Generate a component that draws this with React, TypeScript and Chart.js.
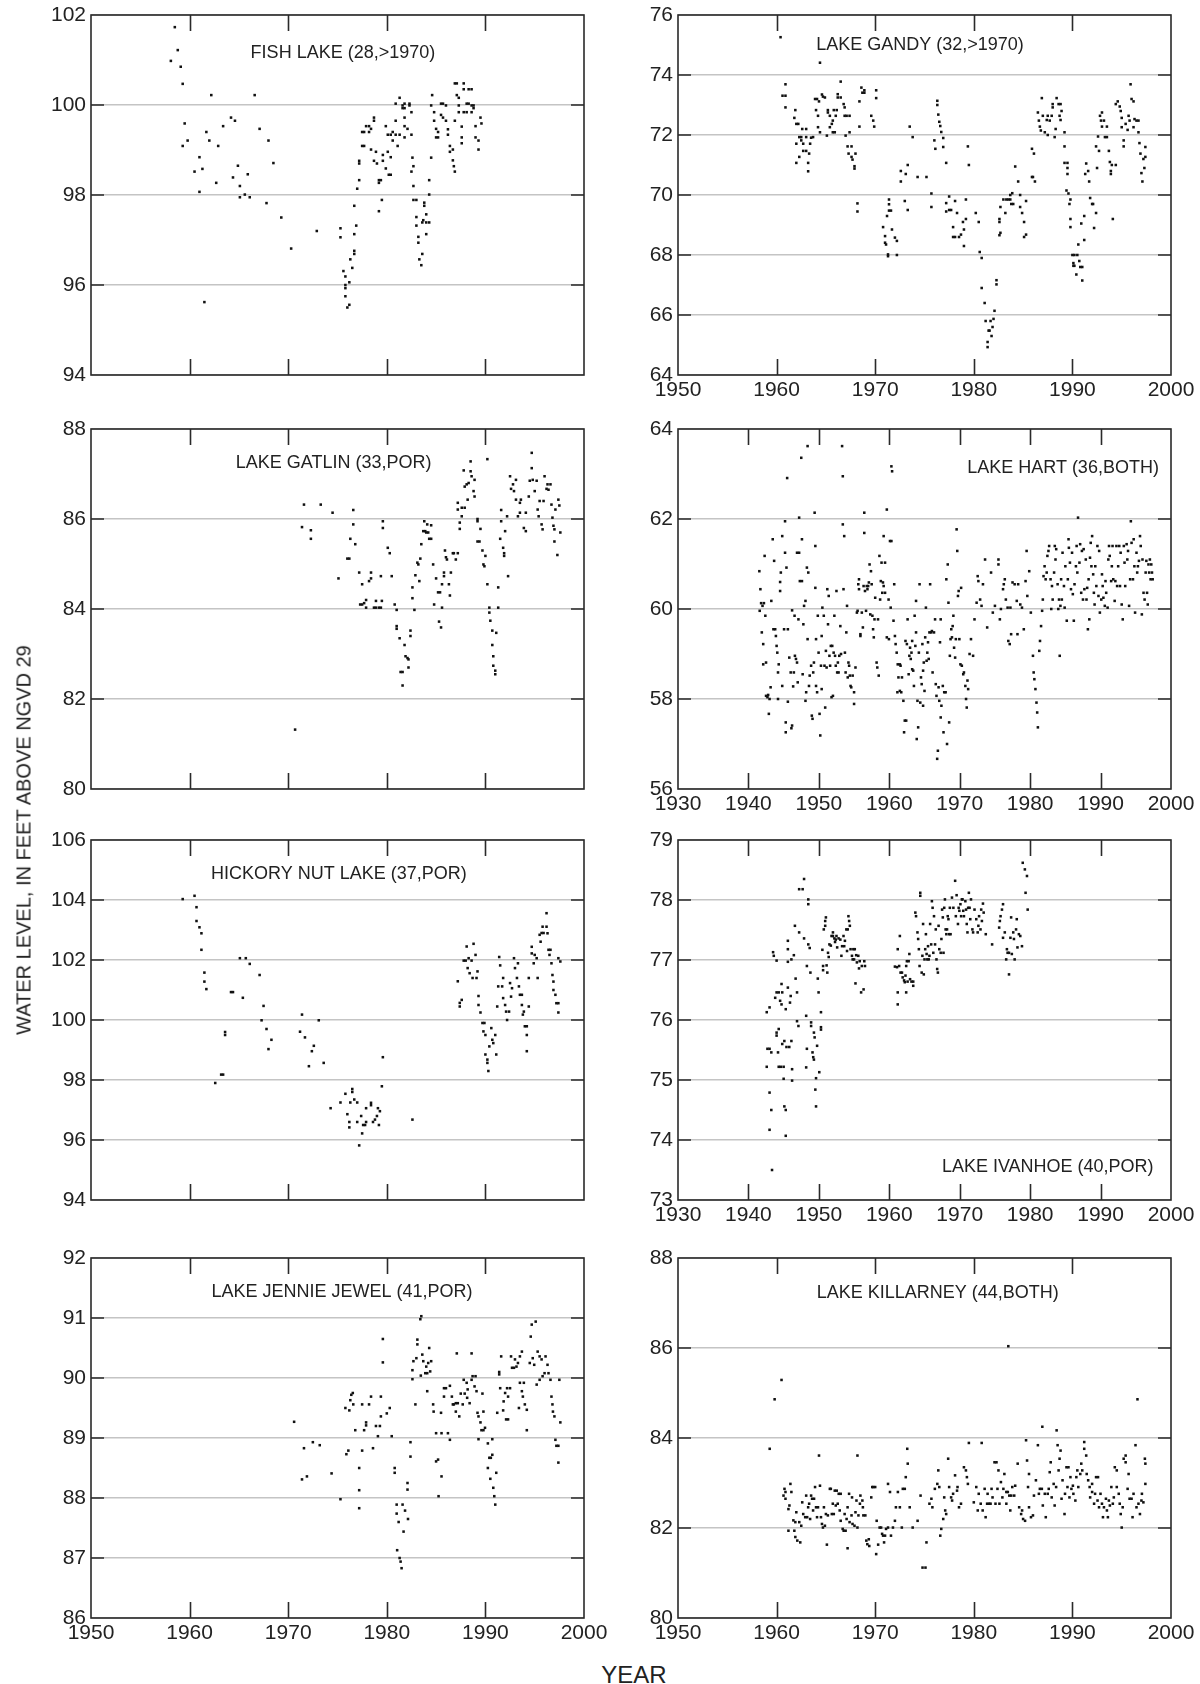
import React, { useEffect, useRef } from 'react';
import { Chart, registerables } from 'chart.js';

Chart.register(...registerables);

const FONT = "'Liberation Sans', Arial, Helvetica, sans-serif";

type P = [number, number];

// ---- DATA: [year, water level (ft above NGVD 29)] ----
const fishLake: P[] = [
  [1958.5,101.73],[1958.8,101.22],[1958.1,100.98],[1959.1,100.85],[1959.3,100.47],[1959.5,99.59],[1959.3,99.09],[1959.8,99.21],[1960.5,98.52],[1961.0,98.84],[1961.3,98.58],[1961.0,98.07],[1961.5,95.62],[1961.7,99.40],[1962.0,99.21],[1962.2,100.22],[1962.7,98.27],[1962.9,99.09],[1963.4,99.53],[1964.2,99.72],[1964.6,99.65],[1964.4,98.39],[1964.9,98.65],[1965.1,98.20],[1965.1,97.95],[1965.6,98.01],[1965.9,98.46],[1966.1,97.95],[1966.6,100.22],[1967.1,99.47],[1967.8,97.82],[1968.0,99.21],[1968.5,98.71],[1969.3,97.50],[1970.3,96.81],[1972.9,97.20],[1975.3,97.26],[1975.3,97.06],[1975.6,96.31],[1975.8,96.19],[1975.8,96.00],[1975.8,95.93],[1975.8,95.75],[1976.0,95.50],[1976.2,95.56],[1976.2,96.06],[1976.3,96.57],[1976.5,96.38],[1976.7,96.76],[1976.7,96.69],[1976.7,97.13],[1976.9,97.32],[1976.7,97.76],[1977.0,98.14],[1977.2,98.33],[1977.2,98.70],[1977.2,98.76],[1977.5,99.09],[1977.7,99.09],[1977.5,99.40],[1977.7,99.40],[1977.9,99.53],[1978.2,99.53],[1978.2,99.40],[1978.4,99.47],[1978.7,99.72],[1978.7,99.65],[1978.4,99.01],[1978.9,98.96],[1978.7,98.76],[1979.0,98.70],[1979.2,98.33],[1979.4,98.33],[1979.2,98.27],[1979.2,97.64],[1979.5,97.89],[1979.6,98.89],[1979.6,98.76],[1979.9,99.53],[1979.9,98.59],[1980.1,98.96],[1980.1,99.34],[1980.2,98.45],[1980.4,98.45],[1980.4,98.84],[1980.4,99.34],[1980.6,99.21],[1980.6,99.40],[1980.9,99.65],[1980.9,99.34],[1981.1,99.09],[1980.9,100.03],[1981.3,100.16],[1981.3,99.34],[1981.6,99.99],[1981.6,99.93],[1981.8,100.03],[1981.8,99.93],[1981.8,99.72],[1981.8,99.53],[1981.8,99.28],[1982.1,99.47],[1982.3,100.03],[1982.3,99.99],[1982.5,99.84],[1982.5,99.34],[1982.6,98.83],[1982.7,98.64],[1982.5,98.52],[1982.7,98.20],[1982.7,97.89],[1983.0,97.89],[1983.0,97.51],[1983.0,97.32],[1983.2,97.07],[1983.2,96.94],[1983.3,96.57],[1983.5,96.44],[1983.6,96.69],[1983.6,97.39],[1983.7,97.44],[1983.8,97.83],[1983.8,97.76],[1984.0,97.57],[1984.0,97.39],[1984.3,97.39],[1984.0,97.13],[1984.3,98.01],[1984.3,98.33],[1984.5,98.83],[1984.6,100.22],[1984.5,99.99],[1984.8,99.84],[1984.8,99.65],[1985.0,99.28],[1985.0,99.47],[1985.2,99.28],[1985.2,99.40],[1985.5,99.78],[1985.5,100.03],[1985.7,100.03],[1985.7,99.72],[1986.0,99.65],[1986.0,99.99],[1986.2,99.46],[1986.2,99.34],[1986.4,99.09],[1986.4,98.96],[1986.7,99.01],[1986.7,98.77],[1986.8,98.64],[1986.9,98.52],[1986.9,99.65],[1986.9,100.48],[1987.1,100.48],[1987.1,100.22],[1987.3,100.16],[1987.3,99.99],[1987.3,99.84],[1987.6,99.52],[1987.6,99.28],[1987.6,99.15],[1987.8,100.48],[1987.8,100.35],[1987.8,99.84],[1988.1,99.84],[1988.1,100.03],[1988.3,100.03],[1988.3,100.35],[1988.6,100.35],[1988.6,99.99],[1988.6,99.84],[1988.8,99.99],[1988.8,99.93],[1989.0,99.28],[1989.0,99.53],[1989.3,99.21],[1989.3,99.01],[1989.5,99.72],[1989.6,99.59]
];

const lakeGandy: P[] = [
  [1960.4,75.26],[1960.6,73.31],[1960.9,73.31],[1960.9,73.69],[1960.9,72.92],[1961.9,72.83],[1961.8,72.57],[1962.0,72.37],[1962.2,72.37],[1962.0,71.71],[1962.0,71.07],[1962.3,71.27],[1962.3,71.93],[1962.5,71.93],[1962.5,71.82],[1962.6,72.20],[1962.7,71.71],[1962.7,71.47],[1963.0,72.20],[1963.0,71.93],[1963.0,71.47],[1963.2,71.07],[1963.2,70.79],[1963.3,71.38],[1963.4,71.71],[1963.5,71.91],[1963.7,71.93],[1963.9,73.20],[1964.1,73.20],[1964.0,72.83],[1964.2,72.64],[1964.2,72.26],[1964.3,73.12],[1964.4,74.41],[1964.4,72.09],[1964.6,73.35],[1964.7,73.28],[1964.9,73.25],[1965.1,71.98],[1965.2,72.83],[1965.2,72.75],[1965.4,72.64],[1965.4,72.26],[1965.6,72.37],[1965.7,72.09],[1965.7,72.48],[1965.8,72.83],[1965.9,72.09],[1966.0,72.64],[1966.1,72.83],[1966.2,73.36],[1966.2,73.25],[1966.5,73.78],[1966.5,73.25],[1966.8,73.03],[1966.9,72.92],[1966.9,72.64],[1967.0,71.98],[1967.1,72.64],[1967.2,71.62],[1967.3,71.38],[1967.4,72.64],[1967.4,72.09],[1967.6,71.27],[1967.6,71.62],[1967.7,71.18],[1967.9,70.96],[1967.9,70.88],[1968.0,71.38],[1968.2,69.72],[1968.2,69.45],[1968.4,72.28],[1968.4,73.12],[1968.6,73.58],[1968.7,73.41],[1968.9,73.41],[1968.9,73.49],[1969.6,72.64],[1969.8,72.48],[1969.9,72.28],[1970.1,73.49],[1970.1,73.23],[1970.8,68.93],[1971.0,68.63],[1971.0,68.41],[1971.1,68.35],[1971.3,68.02],[1971.3,67.96],[1971.2,69.3],[1971.4,69.48],[1971.6,69.48],[1971.4,69.85],[1971.4,69.69],[1971.7,68.85],[1972.0,68.58],[1972.2,68.47],[1972.2,68.0],[1972.6,70.8],[1972.6,70.45],[1973.0,69.8],[1973.1,70.7],[1973.3,71.0],[1973.3,69.5],[1973.5,72.28],[1973.8,71.93],[1974.3,70.6],[1975.2,70.6],[1975.7,70.05],[1975.7,69.6],[1976.0,71.82],[1976.1,71.54],[1976.3,73.14],[1976.3,73.0],[1976.4,72.68],[1976.5,72.44],[1976.6,72.3],[1976.7,72.1],[1976.9,71.9],[1976.9,71.6],[1977.2,71.07],[1977.2,69.73],[1977.2,69.45],[1977.5,69.95],[1977.5,69.5],[1977.7,69.5],[1977.9,68.6],[1977.9,68.93],[1978.1,68.6],[1978.1,69.8],[1978.3,69.4],[1978.5,68.6],[1978.7,68.68],[1978.9,69.1],[1979.0,68.85],[1979.0,68.3],[1979.2,69.2],[1979.2,69.85],[1979.4,71.62],[1979.5,71.0],[1980.2,69.4],[1980.5,69.1],[1980.6,68.1],[1980.8,67.9],[1980.8,66.9],[1981.1,66.4],[1981.2,65.8],[1981.4,65.1],[1981.4,64.93],[1981.5,65.48],[1981.6,65.48],[1981.7,65.8],[1981.8,65.3],[1981.9,65.6],[1982.0,65.87],[1982.1,66.14],[1982.3,67.16],[1982.3,67.02],[1982.6,68.66],[1982.7,68.74],[1982.6,69.2],[1982.6,69.1],[1982.7,69.6],[1983.0,69.85],[1983.2,69.4],[1983.3,69.85],[1983.5,69.85],[1983.7,69.85],[1983.7,70.0],[1983.9,70.06],[1983.8,69.7],[1984.0,69.7],[1984.2,70.95],[1984.5,70.45],[1984.7,70.0],[1984.7,69.6],[1984.9,69.4],[1985.1,69.1],[1985.1,68.6],[1985.3,68.68],[1985.3,69.8],[1985.9,70.6],[1986.0,70.6],[1985.9,71.54],[1986.1,71.38],[1986.2,70.45],[1986.5,72.75],[1986.6,72.48],[1986.7,72.28],[1986.8,72.15],[1986.9,73.23],[1987.0,72.64],[1987.2,72.09],[1987.4,72.5],[1987.5,72.0],[1987.5,72.64],[1987.7,72.48],[1987.9,72.64],[1988.0,72.92],[1988.0,73.03],[1988.2,71.93],[1988.3,72.2],[1988.4,73.23],[1988.6,73.03],[1988.8,73.03],[1988.7,72.64],[1988.8,72.5],[1988.9,72.8],[1989.2,72.09],[1989.2,71.62],[1989.2,71.07],[1989.5,71.07],[1989.5,70.7],[1989.5,70.9],[1989.4,70.15],[1989.6,70.05],[1989.7,69.7],[1989.8,69.85],[1989.8,69.2],[1989.8,68.93],[1990.0,68.0],[1990.2,68.0],[1990.1,67.73],[1990.1,67.64],[1990.2,67.64],[1990.4,67.35],[1990.5,68.0],[1990.6,68.35],[1990.7,67.8],[1990.8,67.6],[1991.0,67.6],[1991.0,67.15],[1990.9,69.05],[1991.2,68.5],[1991.2,69.3],[1991.3,70.7],[1991.4,71.05],[1991.6,70.8],[1991.7,70.45],[1991.8,69.9],[1992.0,69.7],[1992.1,69.7],[1992.2,68.9],[1992.4,69.4],[1992.4,71.62],[1992.5,70.9],[1992.6,71.95],[1992.7,71.47],[1992.8,72.64],[1992.9,72.48],[1993.0,72.75],[1993.0,72.28],[1993.2,72.48],[1993.3,71.93],[1993.5,71.93],[1993.5,72.28],[1993.7,71.47],[1993.8,71.1],[1993.9,70.8],[1994.0,71.0],[1993.9,70.7],[1994.1,69.2],[1994.4,71.0],[1994.4,73.03],[1994.6,73.12],[1994.8,72.95],[1994.9,72.8],[1995.0,72.57],[1995.0,72.26],[1995.2,71.62],[1995.2,71.82],[1995.4,72.37],[1995.6,72.17],[1995.7,72.64],[1995.8,72.48],[1995.9,73.69],[1996.0,73.2],[1996.2,73.12],[1996.2,72.26],[1996.3,72.53],[1996.5,72.48],[1996.7,72.48],[1996.7,72.09],[1996.8,71.73],[1996.9,71.38],[1997.0,70.73],[1997.1,70.45],[1997.2,71.2],[1997.3,70.9],[1997.4,71.6],[1997.4,71.27]
];

const lakeGatlin: P[] = [
  [1970.7,81.32],[1971.4,85.82],[1971.6,86.32],[1972.3,85.75],[1972.3,85.56],[1973.3,86.32],[1974.5,86.14],[1975.1,84.68],[1976.0,85.12],[1976.2,85.12],[1976.3,85.56],[1976.6,86.2],[1976.6,85.88],[1976.8,85.44],[1977.2,84.81],[1977.3,84.1],[1977.5,84.1],[1977.5,84.55],[1977.7,84.13],[1977.9,84.2],[1977.9,84.03],[1978.2,84.62],[1978.4,84.68],[1978.4,84.81],[1978.7,84.03],[1978.9,84.03],[1978.9,84.18],[1979.2,84.03],[1979.4,84.03],[1979.4,84.73],[1979.5,84.18],[1979.6,85.95],[1979.6,85.8],[1980.1,85.36],[1980.3,85.24],[1980.5,84.73],[1980.8,84.1],[1981.0,83.98],[1981.0,83.62],[1981.0,83.56],[1981.3,83.35],[1981.4,82.6],[1981.6,82.6],[1981.6,82.3],[1981.8,83.2],[1981.9,82.95],[1982.1,82.91],[1982.2,82.88],[1982.2,82.7],[1982.4,83.52],[1982.4,83.4],[1982.6,84.48],[1982.6,84.24],[1982.8,83.98],[1982.9,84.75],[1983.1,85.03],[1983.2,84.99],[1983.3,84.62],[1983.4,85.12],[1983.5,85.44],[1983.7,85.73],[1983.9,85.73],[1983.8,85.95],[1984.0,85.7],[1984.2,85.7],[1984.1,85.88],[1984.3,85.56],[1984.5,85.56],[1984.5,85.86],[1984.7,84.99],[1984.8,84.1],[1985.0,84.68],[1985.2,84.37],[1985.4,84.37],[1985.3,83.72],[1985.5,83.59],[1985.6,84.03],[1985.6,84.55],[1985.8,84.81],[1985.8,84.73],[1985.9,85.3],[1986.0,85.15],[1986.1,85.1],[1986.3,84.55],[1986.4,84.3],[1986.5,84.81],[1986.7,85.24],[1986.8,85.24],[1987.0,85.1],[1987.2,85.24],[1987.2,86.21],[1987.2,86.36],[1987.4,85.78],[1987.4,85.92],[1987.6,86.25],[1987.6,86.06],[1987.8,87.08],[1987.9,86.25],[1987.9,86.72],[1988.1,86.77],[1988.2,86.43],[1988.3,86.8],[1988.5,87.06],[1988.5,87.28],[1988.6,86.95],[1988.8,86.62],[1988.9,86.5],[1988.9,86.87],[1989.2,86.0],[1989.2,85.95],[1989.2,85.5],[1989.4,85.5],[1989.5,85.78],[1989.7,85.3],[1989.8,84.99],[1989.9,84.95],[1990.0,85.18],[1990.2,87.33],[1990.2,84.55],[1990.4,84.03],[1990.4,83.92],[1990.5,83.74],[1990.7,83.52],[1990.7,83.2],[1990.8,82.95],[1990.8,82.74],[1991.0,82.63],[1991.0,82.55],[1991.1,83.47],[1991.3,84.48],[1991.3,84.03],[1991.5,85.56],[1991.6,86.2],[1991.6,85.95],[1991.8,85.36],[1991.9,85.24],[1991.9,85.18],[1992.0,85.73],[1992.2,86.06],[1992.3,84.73],[1992.5,86.95],[1992.6,86.67],[1992.8,86.77],[1992.9,86.62],[1993.1,86.87],[1993.1,86.43],[1993.3,86.06],[1993.5,86.14],[1993.5,86.36],[1993.6,86.43],[1993.9,85.8],[1994.1,85.73],[1994.1,86.14],[1994.4,86.5],[1994.5,86.85],[1994.7,87.13],[1994.7,87.47],[1994.8,86.87],[1995.0,86.62],[1995.2,86.85],[1995.3,86.21],[1995.4,86.06],[1995.5,86.4],[1995.7,85.88],[1995.8,85.77],[1995.9,86.4],[1996.0,86.95],[1996.2,86.67],[1996.3,86.77],[1996.4,86.65],[1996.6,86.77],[1996.7,86.32],[1996.8,86.03],[1996.9,85.85],[1997.0,85.77],[1997.0,85.5],[1997.1,86.21],[1997.3,85.2],[1997.4,86.43],[1997.5,86.3],[1997.6,85.7]
];

const lakeHart: P[] = [
  [1941.55,60.84],[1941.7,60.44],[1941.8,60.13],[1942.0,60.07],[1941.6,59.96],[1941.9,59.48],[1942.1,59.22],[1942.2,60.13],[1942.3,61.18],[1942.4,59.85],[1942.1,58.77],[1942.5,58.81],[1942.5,58.07],[1942.7,58.04],[1942.8,58.09],[1942.9,57.67],[1943.0,58.0],[1943.15,58.26],[1943.25,60.18],[1943.45,61.55],[1943.55,59.55],[1943.65,61.07],[1943.8,59.55],[1943.9,59.4],[1944.0,59.18],[1944.1,59.03],[1944.2,58.59],[1944.2,58.0],[1944.3,58.77],[1944.5,60.6],[1944.5,60.4],[1944.6,60.81],[1944.8,61.62],[1944.8,58.29],[1945.06,59.55],[1945.2,61.95],[1945.2,61.25],[1945.3,57.26],[1945.3,57.48],[1945.4,60.92],[1945.5,62.91],[1945.6,59.55],[1945.6,57.94],[1945.8,58.92],[1946.0,58.59],[1946.1,57.35],[1946.2,57.41],[1946.2,59.97],[1946.35,58.28],[1946.45,58.59],[1946.55,59.85],[1946.6,58.96],[1946.75,58.89],[1946.9,58.81],[1946.9,61.25],[1947.0,58.37],[1947.1,59.77],[1947.2,62.03],[1947.2,61.25],[1947.3,60.62],[1947.5,63.36],[1947.6,61.55],[1947.6,60.62],[1947.7,58.55],[1947.8,59.66],[1947.9,60.07],[1948.1,60.18],[1948.1,57.96],[1948.2,58.15],[1948.3,60.92],[1948.4,63.62],[1948.4,59.33],[1948.5,60.81],[1948.6,58.29],[1948.7,58.52],[1948.9,58.74],[1949.0,57.63],[1949.1,57.56],[1949.2,58.59],[1949.3,58.81],[1949.4,62.14],[1949.5,61.4],[1949.5,60.47],[1949.6,59.33],[1949.6,58.29],[1949.75,58.15],[1949.85,59.85],[1949.96,59.03],[1950.1,57.67],[1950.2,57.19],[1950.3,58.74],[1950.4,59.4],[1950.4,58.22],[1950.5,60.03],[1950.7,59.85],[1950.8,58.74],[1950.9,57.81],[1951.0,59.07],[1951.1,58.7],[1951.2,60.44],[1951.3,59.66],[1951.4,60.29],[1951.5,58.96],[1951.6,58.74],[1951.7,59.18],[1951.8,58.04],[1951.9,59.18],[1952.0,58.07],[1952.1,59.03],[1952.2,59.85],[1952.3,58.96],[1952.4,58.74],[1952.5,60.4],[1952.6,58.59],[1952.7,58.81],[1952.8,58.59],[1952.9,58.96],[1953.05,59.62],[1953.15,59.0],[1953.3,63.62],[1953.4,62.95],[1953.4,61.88],[1953.5,60.44],[1953.6,61.62],[1953.7,59.03],[1953.8,58.59],[1953.9,59.48],[1954.0,60.07],[1954.1,58.48],[1954.2,58.81],[1954.3,58.74],[1954.4,58.52],[1954.5,58.29],[1954.6,58.26],[1954.8,58.52],[1955.0,58.15],[1955.0,57.89],[1955.2,58.7],[1955.4,59.92],[1955.5,59.96],[1955.6,60.55],[1955.7,60.66],[1955.7,60.44],[1955.9,59.44],[1955.9,59.4],[1956.1,59.92],[1956.25,59.59],[1956.35,60.51],[1956.45,62.14],[1956.45,61.69],[1956.55,60.4],[1956.7,59.96],[1956.8,60.51],[1956.9,60.44],[1957.0,60.51],[1957.1,60.59],[1957.2,60.99],[1957.3,59.88],[1957.4,60.84],[1957.5,60.55],[1957.6,59.85],[1957.7,59.55],[1957.8,59.37],[1957.9,59.77],[1958.0,60.25],[1958.2,58.81],[1958.3,58.7],[1958.4,59.77],[1958.5,58.52],[1958.6,61.18],[1958.7,60.21],[1958.8,60.62],[1958.9,61.03],[1959.0,60.36],[1959.1,60.59],[1959.2,60.51],[1959.2,61.62],[1959.4,60.36],[1959.4,61.03],[1959.65,62.21],[1959.65,59.37],[1959.9,60.21],[1959.95,59.33],[1960.1,61.51],[1960.2,60.03],[1960.3,61.51],[1960.3,63.17],[1960.4,63.06],[1960.6,59.74],[1960.7,60.55],[1960.8,59.4],[1960.9,59.22],[1961.05,59.03],[1961.15,58.15],[1961.2,58.77],[1961.3,58.48],[1961.5,58.77],[1961.5,58.18],[1961.6,58.74],[1961.7,58.15],[1961.8,58.48],[1962.0,57.96],[1962.1,57.26],[1962.2,57.52],[1962.3,59.29],[1962.4,57.52],[1962.5,59.22],[1962.6,59.77],[1962.75,58.55],[1962.85,58.96],[1962.95,59.14],[1963.05,58.89],[1963.15,59.03],[1963.25,59.29],[1963.25,58.66],[1963.4,58.63],[1963.5,58.29],[1963.6,59.85],[1963.7,59.18],[1963.8,60.18],[1963.8,59.48],[1963.9,57.11],[1964.0,57.96],[1964.1,57.37],[1964.2,59.03],[1964.3,60.55],[1964.4,57.92],[1964.5,58.48],[1964.6,58.33],[1964.7,59.22],[1964.8,57.85],[1964.8,58.63],[1964.9,58.81],[1965.0,58.18],[1965.1,59.37],[1965.2,60.03],[1965.3,58.85],[1965.4,59.03],[1965.5,59.26],[1965.6,58.89],[1965.7,59.48],[1965.8,60.55],[1965.95,59.48],[1966.05,59.51],[1966.15,58.59],[1966.35,59.48],[1966.5,59.77],[1966.6,58.33],[1966.7,58.07],[1966.8,56.67],[1966.9,56.85],[1967.0,58.26],[1967.1,57.96],[1967.2,59.26],[1967.3,59.77],[1967.3,57.59],[1967.4,57.85],[1967.6,58.29],[1967.7,57.26],[1967.8,58.15],[1968.0,58.15],[1968.1,60.66],[1968.2,57.0],[1968.3,60.99],[1968.4,60.14],[1968.5,57.48],[1968.6,58.96],[1968.7,59.33],[1968.8,59.55],[1968.9,59.37],[1969.0,59.62],[1969.1,59.85],[1969.2,59.14],[1969.35,58.92],[1969.45,59.33],[1969.56,61.77],[1969.65,61.29],[1969.75,60.29],[1969.85,60.4],[1969.95,59.33],[1970.1,58.77],[1970.2,60.47],[1970.3,58.74],[1970.5,58.55],[1970.6,58.59],[1970.8,58.29],[1970.9,58.0],[1971.0,57.81],[1971.1,58.41],[1971.2,58.22],[1971.4,59.0],[1971.6,59.33],[1971.9,58.96],[1972.1,59.77],[1972.4,60.14],[1972.55,60.73],[1972.65,60.62],[1972.9,60.21],[1973.1,60.07],[1973.3,60.55],[1973.6,61.1],[1973.9,59.59],[1974.45,60.81],[1974.7,59.92],[1975.0,60.07],[1975.5,61.1],[1975.5,60.99],[1975.7,59.77],[1975.85,60.0],[1976.15,60.44],[1976.26,60.55],[1976.4,60.66],[1976.55,60.21],[1976.8,60.03],[1976.9,59.29],[1977.1,59.22],[1977.2,60.03],[1977.3,59.44],[1977.5,60.59],[1977.8,60.55],[1978.1,60.18],[1978.2,59.44],[1978.3,60.55],[1978.6,60.1],[1978.84,60.03],[1979.1,59.55],[1979.35,60.62],[1979.5,61.29],[1979.6,60.29],[1979.87,60.84],[1980.1,59.92],[1980.4,58.96],[1980.5,58.59],[1980.6,58.44],[1980.75,58.22],[1980.9,57.92],[1981.0,57.7],[1981.1,57.37],[1981.3,59.07],[1981.4,59.29],[1981.55,59.62],[1981.7,59.96],[1981.8,60.21],[1981.9,60.73],[1982.05,60.95],[1982.2,60.66],[1982.35,60.81],[1982.45,61.18],[1982.6,61.29],[1982.7,61.4],[1982.9,60.66],[1983.0,60.0],[1983.1,60.51],[1983.2,60.21],[1983.4,60.81],[1983.5,61.4],[1983.6,61.1],[1983.7,61.33],[1983.9,60.55],[1984.0,60.0],[1984.1,60.21],[1984.2,58.96],[1984.3,60.07],[1984.4,60.66],[1984.5,60.21],[1984.6,61.25],[1984.8,60.51],[1984.9,60.03],[1985.0,60.95],[1985.2,59.74],[1985.35,60.66],[1985.45,61.55],[1985.5,61.36],[1985.65,61.03],[1985.8,60.44],[1985.95,61.25],[1986.06,60.33],[1986.2,59.74],[1986.3,60.55],[1986.5,60.95],[1986.6,61.4],[1986.7,60.81],[1986.8,62.03],[1987.0,61.03],[1987.1,61.44],[1987.25,60.36],[1987.35,61.29],[1987.5,60.21],[1987.6,61.33],[1987.7,60.44],[1987.9,61.1],[1988.0,60.21],[1988.1,60.47],[1988.2,59.55],[1988.3,60.66],[1988.4,59.77],[1988.5,61.14],[1988.6,61.47],[1988.7,60.95],[1988.8,61.62],[1988.95,60.77],[1989.05,60.36],[1989.15,60.1],[1989.25,60.95],[1989.4,60.51],[1989.55,61.4],[1989.7,60.29],[1989.8,61.29],[1989.9,59.92],[1990.1,60.21],[1990.2,60.77],[1990.3,60.51],[1990.4,60.25],[1990.6,60.07],[1990.7,60.62],[1990.8,60.36],[1991.0,60.03],[1991.1,61.1],[1991.2,61.4],[1991.3,61.18],[1991.5,60.62],[1991.6,60.95],[1991.7,61.4],[1991.8,60.66],[1992.0,60.18],[1992.1,60.62],[1992.25,61.4],[1992.35,60.51],[1992.5,60.95],[1992.65,61.4],[1992.76,60.51],[1992.85,61.25],[1993.0,60.1],[1993.15,59.77],[1993.3,61.4],[1993.4,61.03],[1993.5,60.51],[1993.7,61.44],[1993.8,61.1],[1993.9,61.29],[1994.05,60.07],[1994.2,60.66],[1994.3,61.95],[1994.4,61.47],[1994.6,60.66],[1994.7,61.55],[1994.8,60.95],[1994.9,59.92],[1995.1,61.25],[1995.2,60.81],[1995.3,60.95],[1995.45,61.07],[1995.6,61.62],[1995.7,61.4],[1995.86,59.88],[1995.95,61.1],[1996.1,60.36],[1996.25,60.21],[1996.4,60.81],[1996.5,61.07],[1996.6,60.36],[1996.7,60.1],[1996.8,60.99],[1996.9,60.81],[1997.0,61.1],[1997.1,60.66],[1997.2,60.99],[1997.3,60.81],[1997.4,60.66]
];

const hickoryNutLake: P[] = [
  [1959.3,104.03],[1960.5,104.14],[1960.7,103.76],[1960.7,103.3],[1961.0,103.09],[1961.2,102.89],[1961.2,102.34],[1961.5,101.58],[1961.5,101.28],[1961.7,101.03],[1962.6,97.9],[1963.2,98.18],[1963.4,98.18],[1963.6,99.6],[1963.6,99.5],[1964.2,100.93],[1964.4,100.93],[1965.1,102.06],[1965.7,102.06],[1965.4,100.74],[1966.1,101.87],[1967.1,101.5],[1967.5,100.47],[1967.3,99.99],[1967.8,99.7],[1968.0,99.03],[1968.3,99.34],[1971.2,99.61],[1971.4,100.18],[1971.7,99.42],[1972.1,98.46],[1972.4,98.96],[1972.6,99.14],[1973.1,99.99],[1973.6,98.57],[1974.3,97.06],[1975.3,97.25],[1975.8,97.54],[1976.0,96.86],[1976.2,96.6],[1976.2,96.42],[1976.3,97.25],[1976.5,97.7],[1976.5,97.6],[1976.7,97.35],[1977.0,97.25],[1977.0,96.6],[1977.2,95.82],[1977.4,96.8],[1977.5,96.22],[1977.6,96.5],[1977.8,96.5],[1977.9,97.06],[1977.9,96.6],[1978.4,97.24],[1978.4,97.16],[1978.6,96.6],[1978.8,96.68],[1979.0,96.8],[1979.1,97.06],[1979.2,96.5],[1979.3,96.96],[1979.5,97.79],[1979.6,98.76],[1982.6,96.68],[1987.2,101.29],[1987.4,100.57],[1987.4,100.45],[1987.6,100.67],[1987.8,101.98],[1988.0,101.98],[1988.1,102.45],[1988.2,101.73],[1988.3,102.06],[1988.4,101.56],[1988.6,101.98],[1988.7,101.4],[1988.8,102.54],[1989.0,102.17],[1989.1,101.4],[1989.2,101.62],[1989.3,100.8],[1989.3,100.5],[1989.5,100.25],[1989.7,99.9],[1989.9,99.9],[1989.8,99.62],[1990.0,99.5],[1990.0,98.85],[1990.2,98.68],[1990.2,98.57],[1990.3,98.3],[1990.4,99.12],[1990.6,99.73],[1990.7,99.34],[1990.8,99.23],[1991.0,99.5],[1991.1,98.85],[1991.2,100.45],[1991.3,101.12],[1991.4,102.1],[1991.5,101.82],[1991.7,101.12],[1991.8,101.4],[1991.8,100.73],[1992.0,100.5],[1992.1,100.28],[1992.2,100.0],[1992.4,100.28],[1992.5,101.23],[1992.6,100.78],[1992.7,101.06],[1992.9,102.06],[1993.0,101.73],[1993.2,101.4],[1993.3,101.89],[1993.4,101.12],[1993.5,100.84],[1993.7,100.84],[1993.7,100.5],[1993.8,100.18],[1993.9,100.28],[1994.0,99.79],[1994.2,99.79],[1994.2,99.5],[1994.2,98.96],[1994.4,100.45],[1994.4,101.4],[1994.7,102.22],[1994.7,102.44],[1994.9,101.89],[1995.0,102.17],[1995.2,102.06],[1995.3,101.4],[1995.5,102.84],[1995.6,102.61],[1995.7,102.9],[1995.9,102.9],[1995.8,103.11],[1996.2,103.56],[1996.2,103.11],[1996.3,102.89],[1996.4,102.34],[1996.6,102.34],[1996.5,102.17],[1996.7,101.89],[1996.8,101.5],[1996.9,101.28],[1996.9,101.0],[1997.1,100.84],[1997.2,100.56],[1997.4,100.56],[1997.4,100.25],[1997.4,102.06],[1997.6,101.95]
];

const lakeIvanhoe: P[] = [
  [1942.6,76.13],[1943.0,76.21],[1942.7,75.52],[1943.0,75.52],[1943.25,75.46],[1942.6,75.22],[1943.0,74.79],[1943.25,74.5],[1943.0,74.17],[1943.35,73.5],[1943.5,77.13],[1943.6,77.07],[1944.0,76.99],[1943.8,76.37],[1944.0,76.46],[1944.3,76.46],[1944.0,75.79],[1944.0,75.74],[1944.3,75.85],[1944.2,75.46],[1944.3,75.22],[1944.6,75.22],[1944.5,76.32],[1944.7,76.6],[1944.8,76.46],[1944.7,76.26],[1944.8,75.6],[1945.0,75.22],[1945.0,75.02],[1945.1,75.65],[1945.1,74.56],[1945.3,74.5],[1945.3,74.07],[1945.3,76.18],[1945.4,75.55],[1945.6,77.32],[1945.6,77.18],[1945.6,76.97],[1945.6,76.54],[1945.8,75.55],[1945.9,76.29],[1946.0,76.4],[1946.1,77.01],[1946.1,75.65],[1946.2,75.18],[1946.2,74.99],[1946.45,77.08],[1946.6,77.57],[1946.7,76.69],[1946.9,76.46],[1946.9,75.98],[1947.1,75.9],[1947.2,77.46],[1947.2,78.18],[1947.7,78.18],[1947.9,78.35],[1947.9,77.36],[1948.2,76.07],[1948.2,75.21],[1948.3,76.9],[1948.3,75.52],[1948.5,78.01],[1948.5,77.93],[1948.5,77.26],[1948.7,77.2],[1948.8,76.79],[1948.9,75.96],[1948.9,75.9],[1949.1,75.46],[1949.2,75.38],[1949.3,75.34],[1949.3,75.79],[1949.4,75.71],[1949.5,74.84],[1949.6,74.56],[1949.6,75.03],[1949.75,75.57],[1949.85,76.69],[1949.96,76.46],[1950.06,75.13],[1950.3,76.13],[1950.3,75.88],[1950.3,75.84],[1950.5,77.17],[1950.6,76.9],[1950.6,76.83],[1950.7,77.51],[1950.9,77.65],[1951.0,77.71],[1950.9,77.57],[1951.1,76.91],[1951.2,76.79],[1951.3,77.12],[1951.4,77.05],[1951.5,77.26],[1951.7,77.24],[1951.8,77.4],[1952.0,77.4],[1952.0,77.46],[1952.2,77.36],[1952.4,77.34],[1952.3,77.3],[1952.5,77.4],[1952.6,77.21],[1952.8,77.36],[1953.05,77.34],[1953.2,77.07],[1953.3,77.23],[1953.5,77.4],[1953.6,77.23],[1953.7,77.32],[1953.9,77.51],[1954.1,77.51],[1954.0,77.15],[1954.2,77.73],[1954.3,77.65],[1954.4,77.57],[1954.5,77.18],[1954.7,77.07],[1954.8,77.01],[1955.0,77.01],[1954.9,77.18],[1955.1,77.18],[1955.2,76.61],[1955.3,77.08],[1955.4,76.96],[1955.6,77.07],[1955.7,76.86],[1955.8,76.98],[1956.0,76.46],[1956.1,76.9],[1956.35,76.51],[1956.45,76.98],[1956.55,76.9],[1960.8,76.89],[1961.1,76.88],[1961.2,77.18],[1961.2,76.46],[1961.2,76.26],[1961.4,76.9],[1961.5,77.4],[1961.6,76.79],[1961.8,76.79],[1961.9,76.71],[1962.1,76.66],[1962.2,76.63],[1962.3,76.74],[1962.4,76.46],[1962.4,76.9],[1962.5,76.98],[1962.6,76.64],[1962.75,76.98],[1962.85,77.1],[1962.95,76.68],[1963.15,76.64],[1963.4,76.64],[1963.4,76.57],[1963.7,77.79],[1963.8,77.73],[1964.0,77.46],[1964.1,77.35],[1964.2,77.18],[1964.3,76.9],[1964.4,78.12],[1964.4,78.07],[1964.6,76.79],[1964.7,77.07],[1964.8,77.6],[1964.9,76.76],[1965.0,77.01],[1965.1,77.18],[1965.2,77.43],[1965.3,77.1],[1965.4,77.01],[1965.6,77.01],[1965.5,77.23],[1965.7,77.07],[1965.8,77.6],[1965.95,77.26],[1966.05,77.98],[1966.15,77.87],[1966.25,77.12],[1966.35,77.73],[1966.5,77.26],[1966.6,77.51],[1966.7,77.01],[1966.8,76.85],[1966.9,76.79],[1967.0,77.57],[1967.1,77.18],[1967.3,77.12],[1967.4,77.35],[1967.5,77.84],[1967.6,77.71],[1967.7,77.12],[1967.8,77.87],[1967.9,78.01],[1968.0,77.51],[1968.2,77.51],[1968.1,77.43],[1968.3,77.73],[1968.4,77.68],[1968.5,77.43],[1968.7,77.43],[1968.6,77.87],[1968.9,78.04],[1969.1,77.87],[1969.35,78.32],[1969.45,77.73],[1969.56,78.08],[1969.75,77.6],[1969.85,77.87],[1969.95,77.82],[1970.1,77.93],[1970.3,78.01],[1970.2,77.73],[1970.4,78.01],[1970.5,77.82],[1970.6,77.73],[1970.8,77.98],[1970.9,77.84],[1971.0,77.6],[1971.1,77.46],[1971.2,77.87],[1971.4,77.87],[1971.3,78.12],[1971.5,77.68],[1971.6,78.01],[1971.8,77.51],[1971.9,77.46],[1972.1,77.84],[1972.35,77.68],[1972.55,77.46],[1972.65,77.57],[1972.75,77.73],[1972.95,77.51],[1973.05,77.84],[1973.15,77.65],[1973.3,77.94],[1973.4,77.79],[1973.7,77.43],[1974.6,77.26],[1975.6,77.54],[1975.7,77.65],[1975.8,77.73],[1976.0,77.84],[1976.15,77.93],[1976.15,77.37],[1976.4,77.46],[1976.6,77.01],[1976.7,77.18],[1976.8,77.12],[1977.0,77.12],[1977.0,76.76],[1977.2,77.37],[1977.3,77.71],[1977.4,77.1],[1977.6,77.46],[1977.7,77.35],[1977.8,77.01],[1978.0,77.51],[1978.1,77.68],[1978.2,77.21],[1978.4,77.43],[1978.6,77.4],[1978.84,77.23],[1978.95,78.62],[1979.25,78.51],[1979.35,78.12],[1979.55,78.4],[1979.65,77.84]
];

const lakeJennieJewel: P[] = [
  [1970.6,89.27],[1971.6,88.83],[1971.4,88.31],[1971.9,88.36],[1972.5,88.93],[1973.2,88.88],[1974.4,88.41],[1975.3,87.98],[1975.8,89.5],[1975.9,88.73],[1976.1,88.79],[1976.2,89.46],[1976.3,89.63],[1976.4,89.72],[1976.55,89.75],[1976.6,89.56],[1976.8,89.13],[1977.2,88.5],[1977.2,88.13],[1977.2,87.83],[1977.5,88.79],[1977.5,89.56],[1977.7,89.13],[1977.9,89.26],[1977.9,89.21],[1978.2,89.56],[1978.4,89.69],[1978.6,88.83],[1978.9,89.2],[1979.1,89.03],[1979.3,89.2],[1979.4,89.69],[1979.4,89.36],[1979.6,90.65],[1979.6,90.26],[1980.0,89.41],[1980.3,89.5],[1980.5,89.03],[1980.8,88.5],[1980.8,88.42],[1981.0,87.89],[1981.0,87.74],[1981.05,87.13],[1981.2,87.6],[1981.3,87.0],[1981.4,86.94],[1981.5,86.83],[1981.6,87.89],[1981.7,87.44],[1981.85,87.79],[1982.1,88.25],[1982.1,88.14],[1982.15,87.65],[1982.4,88.93],[1982.4,88.69],[1982.6,90.13],[1982.6,89.98],[1982.7,90.28],[1982.9,89.56],[1983.0,90.33],[1983.1,90.64],[1983.1,90.56],[1983.4,90.98],[1983.5,91.03],[1983.45,90.04],[1983.6,90.39],[1983.7,90.28],[1983.9,90.08],[1984.1,90.08],[1984.0,90.19],[1984.1,89.78],[1984.2,90.25],[1984.3,90.5],[1984.4,90.11],[1984.5,90.28],[1984.7,89.56],[1984.75,89.44],[1985.0,88.61],[1985.0,89.08],[1985.2,88.64],[1985.25,88.03],[1985.5,89.42],[1985.55,88.36],[1985.55,89.08],[1985.8,89.83],[1986.0,89.83],[1985.8,89.69],[1986.2,89.08],[1986.4,88.97],[1986.4,89.87],[1986.6,89.69],[1986.7,89.56],[1986.8,89.56],[1987.0,89.58],[1987.0,89.44],[1987.1,90.41],[1987.2,89.58],[1987.35,89.36],[1987.5,89.74],[1987.7,89.56],[1987.8,89.97],[1987.9,89.74],[1988.1,89.92],[1988.15,89.67],[1988.2,89.81],[1988.4,89.58],[1988.6,90.41],[1988.6,89.97],[1988.7,90.03],[1988.9,89.86],[1989.0,90.03],[1989.1,89.78],[1989.2,89.42],[1989.3,89.36],[1989.3,88.98],[1989.5,89.26],[1989.6,89.13],[1989.8,89.13],[1989.7,89.74],[1989.8,89.44],[1989.96,89.17],[1990.25,88.91],[1990.25,88.5],[1990.4,88.67],[1990.5,88.32],[1990.55,88.67],[1990.7,88.72],[1990.7,88.98],[1990.8,88.17],[1990.9,88.03],[1991.0,87.89],[1991.1,88.42],[1991.2,89.42],[1991.4,90.1],[1991.4,90.06],[1991.5,89.83],[1991.6,90.36],[1991.8,89.46],[1991.85,89.61],[1992.0,89.75],[1992.1,89.31],[1992.3,89.31],[1992.2,89.83],[1992.3,89.69],[1992.5,89.83],[1992.6,90.36],[1992.7,90.17],[1992.9,90.17],[1993.0,90.31],[1993.15,90.19],[1993.3,90.25],[1993.4,89.5],[1993.5,90.36],[1993.5,89.92],[1993.7,89.78],[1993.7,90.44],[1993.8,89.69],[1993.9,89.92],[1994.0,89.56],[1994.2,89.47],[1994.2,89.13],[1994.5,90.25],[1994.6,90.69],[1994.7,90.89],[1994.8,90.33],[1994.95,90.22],[1995.1,90.94],[1995.2,89.89],[1995.3,90.44],[1995.5,90.36],[1995.5,89.97],[1995.7,90.31],[1995.8,90.03],[1996.0,90.08],[1996.1,90.36],[1996.3,90.22],[1996.4,90.08],[1996.6,89.97],[1996.7,89.69],[1996.8,89.56],[1996.85,89.44],[1997.0,89.36],[1997.1,88.97],[1997.2,88.87],[1997.4,88.87],[1997.4,88.59],[1997.5,89.97],[1997.6,89.26]
];

const lakeKillarney: P[] = [
  [1959.3,83.76],[1959.8,84.86],[1960.5,85.29],[1960.7,82.72],[1960.9,82.65],[1960.8,82.87],[1960.9,82.8],[1961.2,81.94],[1961.2,82.42],[1961.3,82.5],[1961.4,82.98],[1961.5,82.8],[1961.7,82.17],[1961.9,82.13],[1961.8,81.94],[1961.9,81.8],[1962.0,82.35],[1962.1,81.72],[1962.3,82.13],[1962.4,81.68],[1962.5,82.05],[1962.6,82.57],[1962.7,82.31],[1962.9,82.24],[1963.1,82.24],[1963.0,82.72],[1963.2,82.46],[1963.3,82.54],[1963.4,82.2],[1963.5,82.72],[1963.6,82.65],[1963.8,82.65],[1963.7,82.39],[1963.9,82.91],[1964.0,82.46],[1964.1,82.24],[1964.2,82.46],[1964.3,83.61],[1964.4,82.94],[1964.5,82.24],[1964.6,82.09],[1964.7,82.01],[1964.8,82.46],[1964.9,82.05],[1965.0,82.31],[1965.1,81.63],[1965.2,82.28],[1965.4,82.87],[1965.5,82.87],[1965.6,82.31],[1965.7,82.54],[1965.8,82.31],[1965.9,82.83],[1966.1,82.83],[1966.0,82.5],[1966.2,82.54],[1966.3,82.76],[1966.5,82.76],[1966.4,82.39],[1966.5,82.16],[1966.7,81.98],[1966.8,81.94],[1967.0,81.94],[1966.9,82.31],[1967.1,82.2],[1967.2,81.55],[1967.2,82.46],[1967.35,82.76],[1967.4,82.13],[1967.6,82.28],[1967.65,82.68],[1967.7,82.09],[1967.9,82.05],[1968.0,82.35],[1968.1,82.61],[1968.2,83.61],[1968.2,82.01],[1968.3,82.28],[1968.45,82.54],[1968.5,82.72],[1968.7,82.61],[1968.75,82.46],[1968.8,82.28],[1969.0,82.28],[1969.1,81.72],[1969.2,81.64],[1969.35,81.75],[1969.4,81.6],[1969.6,82.68],[1969.7,82.91],[1969.8,82.91],[1970.0,82.91],[1970.1,81.42],[1970.15,82.16],[1970.3,81.63],[1970.45,82.01],[1970.6,82.01],[1970.7,81.87],[1970.8,81.83],[1971.0,81.83],[1970.9,81.68],[1971.1,81.98],[1971.3,82.98],[1971.3,82.01],[1971.5,82.8],[1971.6,81.83],[1971.8,82.01],[1972.0,82.16],[1972.1,82.46],[1972.3,82.8],[1972.5,82.46],[1972.7,82.01],[1972.8,82.87],[1973.0,82.87],[1973.1,83.13],[1973.25,83.76],[1973.3,83.43],[1973.5,82.46],[1973.8,82.01],[1974.3,82.16],[1974.6,82.72],[1974.8,81.12],[1975.1,81.12],[1975.2,81.68],[1975.5,82.54],[1975.7,82.65],[1975.8,82.46],[1976.05,82.87],[1976.3,82.98],[1976.4,83.28],[1976.5,82.91],[1976.6,81.83],[1976.7,81.98],[1976.9,82.2],[1977.0,82.68],[1977.1,82.39],[1977.2,82.31],[1977.4,83.54],[1977.5,82.91],[1977.7,82.68],[1977.8,82.61],[1977.9,82.76],[1978.1,83.17],[1978.3,82.83],[1978.35,82.91],[1978.5,82.46],[1978.7,82.54],[1979.0,83.35],[1979.2,83.28],[1979.3,83.13],[1979.4,82.98],[1979.5,83.89],[1980.0,82.57],[1980.25,82.91],[1980.4,82.39],[1980.5,82.76],[1980.7,82.54],[1980.8,83.89],[1980.9,82.39],[1981.1,82.87],[1981.2,82.24],[1981.35,82.54],[1981.4,82.76],[1981.55,82.54],[1981.7,82.54],[1981.8,82.87],[1981.9,82.68],[1982.1,83.46],[1982.3,83.46],[1982.2,82.54],[1982.4,82.87],[1982.5,83.28],[1982.6,82.54],[1982.75,83.02],[1982.9,82.68],[1983.0,82.87],[1983.1,83.2],[1983.3,82.8],[1983.45,82.8],[1983.3,82.54],[1983.5,86.04],[1983.6,82.72],[1983.8,82.72],[1983.7,82.39],[1983.9,82.91],[1984.1,82.72],[1984.2,82.94],[1984.45,83.43],[1984.6,82.46],[1984.8,82.31],[1984.9,82.39],[1985.0,82.2],[1985.2,82.16],[1985.3,83.95],[1985.4,83.5],[1985.5,82.91],[1985.6,83.2],[1985.6,82.46],[1985.8,82.24],[1986.0,82.28],[1986.1,82.72],[1986.3,83.06],[1986.5,83.84],[1986.6,82.76],[1986.7,82.87],[1986.9,82.87],[1986.95,84.25],[1987.0,82.5],[1987.2,82.76],[1987.3,82.24],[1987.5,82.76],[1987.6,82.87],[1987.7,83.24],[1987.8,83.46],[1987.9,82.68],[1988.1,82.98],[1988.2,82.5],[1988.35,82.91],[1988.4,84.17],[1988.5,83.84],[1988.6,83.28],[1988.7,83.54],[1988.8,83.72],[1988.9,82.65],[1989.0,83.06],[1989.2,82.31],[1989.25,82.76],[1989.4,83.35],[1989.6,83.35],[1989.5,82.91],[1989.7,82.68],[1989.8,83.13],[1989.9,82.87],[1990.05,82.94],[1990.1,82.76],[1990.3,82.61],[1990.4,83.13],[1990.5,83.28],[1990.6,82.91],[1990.8,83.2],[1990.9,83.43],[1991.0,83.28],[1991.2,83.91],[1991.2,83.76],[1991.4,83.61],[1991.45,83.2],[1991.6,83.06],[1991.75,82.91],[1991.8,82.68],[1992.0,82.8],[1992.0,82.98],[1992.2,82.54],[1992.3,82.76],[1992.4,83.13],[1992.6,83.13],[1992.55,82.61],[1992.7,82.46],[1992.85,82.76],[1993.0,82.54],[1993.1,82.24],[1993.2,82.46],[1993.4,82.65],[1993.5,82.39],[1993.6,82.24],[1993.7,82.61],[1993.8,82.5],[1993.95,82.91],[1994.1,82.54],[1994.2,82.68],[1994.3,83.35],[1994.5,83.28],[1994.5,82.91],[1994.7,82.76],[1994.8,82.54],[1994.9,82.31],[1995.0,82.01],[1995.1,82.46],[1995.2,83.54],[1995.4,83.61],[1995.4,83.46],[1995.6,82.87],[1995.7,83.2],[1995.8,82.65],[1996.0,82.65],[1996.1,82.24],[1996.2,82.76],[1996.4,83.84],[1996.5,82.46],[1996.6,84.86],[1996.7,82.54],[1996.85,82.31],[1997.0,82.61],[1997.05,82.76],[1997.2,82.57],[1997.35,83.54],[1997.4,83.43],[1997.4,82.98]
];

const lakeSeries: P[][] = [fishLake, lakeGandy, lakeGatlin, lakeHart, hickoryNutLake, lakeIvanhoe, lakeJennieJewel, lakeKillarney];
const lakeTitles = [
  'FISH LAKE (28,>1970)', 'LAKE GANDY (32,>1970)', 'LAKE GATLIN (33,POR)', 'LAKE HART (36,BOTH)',
  'HICKORY NUT LAKE (37,POR)', 'LAKE IVANHOE (40,POR)', 'LAKE JENNIE JEWEL (41,POR)', 'LAKE KILLARNEY (44,BOTH)',
];
const yearMins = [1950, 1950, 1950, 1930, 1950, 1930, 1950, 1950];
const yearMax = 2000;
const yearStep = 10;
const levelMins = [94, 64, 80, 56, 94, 73, 86, 80];
const levelMaxs = [102, 76, 88, 64, 106, 79, 92, 88];
const levelSteps = [2, 2, 2, 2, 2, 1, 1, 2];
const showYearLabels = [false, true, false, true, false, true, true, true];

// ---- LAYOUT (page pixels) ----
const PLOT_TOPS = [15, 429, 840, 1258];
const PLOT_H = 360;
const PAD_TOP = 14;
const X_AXIS_H = 36;
const CANVAS_LEFT = [0, 600];
const CANVAS_W = [640, 600];
const CANVAS_H = PAD_TOP + PLOT_H + X_AXIS_H;
const Y_AXIS_W = [91, 78];
const PAD_RIGHT = [56, 29];
// title: [fraction across plot, offset px, fromBottom]
const titlePos: [number, number, boolean][] = [
  [0.511, 38, false], [0.491, 30, false], [0.492, 34, false], [0.781, 39, false],
  [0.503, 34, false], [0.75, 33, true], [0.509, 34, false], [0.527, 35, false],
];

const framePlugin = {
  id: 'frame',
  afterDatasetsDraw(chart: any, _args: any, opts: any) {
    const { ctx, chartArea: a, scales } = chart;
    const xs = scales.x, ys = scales.y;
    ctx.save();
    ctx.strokeStyle = '#2a2a2a';
    ctx.lineWidth = 1.6;
    ctx.beginPath();
    for (const t of xs.ticks) {
      if (t.value <= xs.min || t.value >= xs.max) continue;
      const px = Math.round(xs.getPixelForValue(t.value)) + 0.5;
      ctx.moveTo(px, a.top); ctx.lineTo(px, a.top + 16);
      ctx.moveTo(px, a.bottom); ctx.lineTo(px, a.bottom - 16);
    }
    for (const t of ys.ticks) {
      if (t.value <= ys.min || t.value >= ys.max) continue;
      const py = ys.getPixelForValue(t.value);
      ctx.moveTo(a.left, py); ctx.lineTo(a.left + 13, py);
      ctx.moveTo(a.right, py); ctx.lineTo(a.right - 13, py);
    }
    ctx.stroke();
    ctx.strokeRect(a.left, a.top, a.right - a.left, a.bottom - a.top);
    ctx.fillStyle = '#222';
    ctx.font = `18px ${FONT}`;
    ctx.textAlign = 'center';
    ctx.textBaseline = 'middle';
    const tx = a.left + opts.fx * (a.right - a.left);
    const ty = opts.fromBottom ? a.bottom - opts.dy : a.top + opts.dy;
    ctx.fillText(opts.text, tx, ty);
    ctx.restore();
  },
};

function Panel({ idx }: { idx: number }) {
  const ref = useRef<HTMLCanvasElement | null>(null);
  const col = idx % 2;
  const row = Math.floor(idx / 2);
  useEffect(() => {
    if (!ref.current) return;
    const pts = lakeSeries[idx].map(([x, y]) => ({ x, y }));
    const chart = new Chart(ref.current, {
      type: 'scatter',
      data: {
        datasets: [{
          data: pts,
          pointStyle: 'rect',
          pointRadius: 1.8,
          pointBorderWidth: 0,
          backgroundColor: '#111',
          borderColor: '#111',
        }],
      },
      options: {
        responsive: false,
        animation: false,
        events: [],
        layout: { padding: { top: PAD_TOP, right: PAD_RIGHT[col], left: 0, bottom: 0 } },
        plugins: {
          legend: { display: false },
          tooltip: { enabled: false },
          frame: { text: lakeTitles[idx], fx: titlePos[idx][0], dy: titlePos[idx][1], fromBottom: titlePos[idx][2] },
        } as any,
        scales: {
          x: {
            type: 'linear',
            min: yearMins[idx],
            max: yearMax,
            grid: { display: false, drawTicks: false },
            border: { display: false },
            ticks: {
              display: showYearLabels[idx],
              stepSize: yearStep,
              autoSkip: false,
              maxRotation: 0,
              padding: 3,
              color: '#222',
              font: { family: FONT, size: 21 },
              callback: (v: any) => String(v),
            },
            afterFit: (s: any) => { s.height = X_AXIS_H; s.paddingLeft = 0; s.paddingRight = 0; },
          },
          y: {
            type: 'linear',
            min: levelMins[idx],
            max: levelMaxs[idx],
            grid: { color: '#c4c4c4', lineWidth: 1.4, drawTicks: false },
            border: { display: false },
            ticks: {
              stepSize: levelSteps[idx],
              autoSkip: false,
              padding: 5,
              color: '#222',
              font: { family: FONT, size: 21 },
              callback: (v: any) => String(v),
            },
            afterFit: (s: any) => { s.width = Y_AXIS_W[col]; s.paddingTop = 0; s.paddingBottom = 0; },
          },
        },
      },
      plugins: [framePlugin as any],
    });
    return () => chart.destroy();
  }, [idx, col]);
  return (
    <canvas
      ref={ref}
      width={CANVAS_W[col]}
      height={CANVAS_H}
      style={{ position: 'absolute', left: CANVAS_LEFT[col], top: PLOT_TOPS[row] - PAD_TOP, width: CANVAS_W[col], height: CANVAS_H }}
    />
  );
}

export default function App() {
  return (
    <div style={{ position: 'absolute', left: 0, top: 0, width: 1200, height: 1684, background: '#fff', overflow: 'hidden', fontFamily: FONT }}>
      {lakeSeries.map((_, i) => <Panel key={i} idx={i} />)}
      <div style={{ position: 'absolute', left: 24, top: 840, transform: 'translate(-50%, -50%) rotate(-90deg)', whiteSpace: 'nowrap', fontSize: 20, color: '#222' }}>
        WATER LEVEL, IN FEET ABOVE NGVD 29
      </div>
      <div style={{ position: 'absolute', left: 634, top: 1675, transform: 'translate(-50%, -50%)', whiteSpace: 'nowrap', fontSize: 24, color: '#222' }}>
        YEAR
      </div>
    </div>
  );
}
